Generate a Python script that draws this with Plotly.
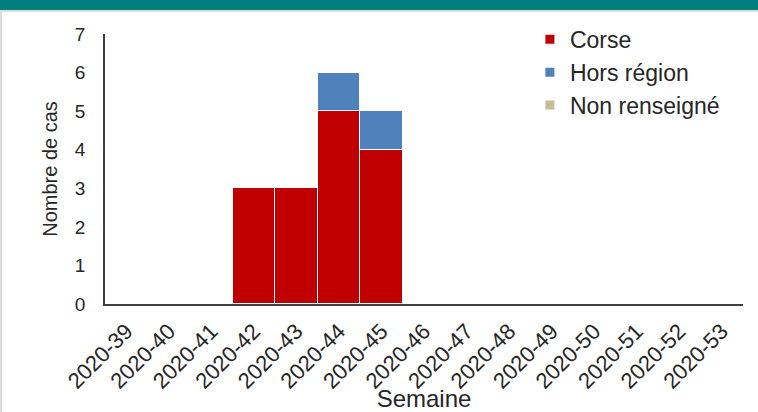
import plotly.graph_objects as go

# semaines et nombre de cas par provenance
semaines = ["2020-%d" % w for w in range(39, 54)]
corse = [None, None, None, 3, 3, 5, 4, None, None, None, None, None, None, None, None]
hors_region = [None, None, None, None, None, 1, 1, None, None, None, None, None, None, None, None]
non_renseigne = [None] * 15

W, H = 758, 412
ML, MR, MT, MB = 105, 15, 34, 108
pw = W - ML - MR
ph = H - MT - MB

fig = go.Figure()
series = [("Corse", corse, "#C00000"),
          ("Hors région", hors_region, "#4F81BD"),
          ("Non renseigné", non_renseigne, "#C4BD97")]
for name, vals, col in series:
    fig.add_trace(go.Bar(
        x=semaines, y=vals, name=name, showlegend=False,
        marker=dict(color=col, line=dict(color="white", width=1)),
    ))
    # petite case carrée pour la légende
    fig.add_trace(go.Scatter(
        x=[semaines[0]], y=[None], name=name, legendgroup=name, mode="markers",
        marker=dict(symbol="square", size=9, color=col),
    ))

# bandeau vert en haut + bordures grises
fig.add_shape(type="rect", xref="paper", yref="paper",
              x0=-ML / pw, x1=1 + MR / pw,
              y0=1 + (MT - 10) / ph, y1=1 + MT / ph + 0.01,
              fillcolor="#007F7F", line=dict(width=0), layer="above")
fig.add_shape(type="line", xref="paper", yref="paper",
              x0=-ML / pw, x1=1 + MR / pw,
              y0=1 + (MT - 11) / ph, y1=1 + (MT - 11) / ph,
              line=dict(color="#DDDDDD", width=2))
fig.add_shape(type="line", xref="paper", yref="paper",
              x0=-(ML - 1) / pw, x1=-(ML - 1) / pw,
              y0=-MB / ph, y1=1 + (MT - 11) / ph,
              line=dict(color="#DDDDDD", width=2))

fig.update_layout(
    width=W, height=H,
    margin=dict(l=ML, r=MR, t=MT, b=MB),
    paper_bgcolor="white", plot_bgcolor="white",
    barmode="stack", bargap=0,
    font=dict(family="Liberation Sans, Arial, sans-serif", size=20, color="#262626"),
    showlegend=True,
    legend=dict(x=0.666, y=1.06, xanchor="left", yanchor="top",
                traceorder="grouped", tracegroupgap=0,
                font=dict(size=23, color="#262626"), itemwidth=30,
                bgcolor="rgba(0,0,0,0)"),
    xaxis=dict(
        title=dict(text="Semaine", font=dict(size=24), standoff=21),
        range=[-0.5, len(semaines) - 0.5],
        tickangle=-45, tickfont=dict(size=22),
        ticklabelstandoff=4,
        showline=True, linecolor="#404040", linewidth=1.5,
        ticks="", showgrid=False, zeroline=False, automargin=False,
    ),
    yaxis=dict(
        title=dict(text="Nombre de cas", font=dict(size=20), standoff=12),
        range=[0, 7], dtick=1, tickfont=dict(size=19),
        showline=True, linecolor="#404040", linewidth=1.5,
        ticks="", showgrid=False, zeroline=False, ticklabelstandoff=14,
        automargin=False,
    ),
)

fig.write_html("out.html", config={"displayModeBar": False},
               post_script="document.body.style.margin='0';")
